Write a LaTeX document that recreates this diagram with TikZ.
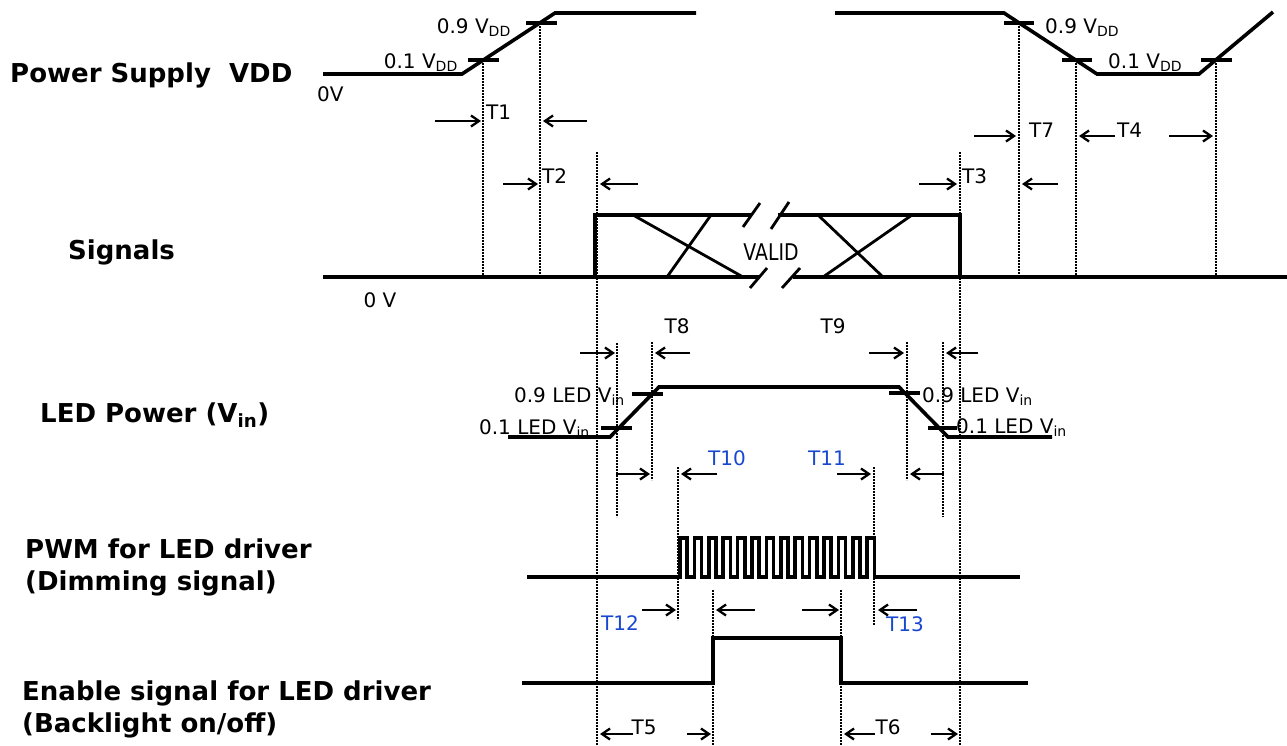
\documentclass[tikz,border=0pt]{standalone}
\usepackage{fontspec}
\setmainfont{DejaVu Sans}
\usepackage{tikz}
\usetikzlibrary{arrows.meta}
\definecolor{tblue}{RGB}{25,72,208}

\begin{document}
\begin{tikzpicture}[x=1pt,y=-1pt,
    sig/.style={line width=3.6pt},
    thin sig/.style={line width=2.8pt},
    lvl/.style={line width=3.6pt},
    guide/.style={line width=1.7pt,dash pattern=on 1.6pt off 1.4pt},
    tarr/.style={-{Straight Barb[length=8pt,width=11pt]},line width=2.3pt},
    lbl/.style={font=\fontsize{20}{22}\selectfont,inner sep=0pt},
    tlbl/.style={lbl,text=tblue},
    title/.style={font=\fontsize{26}{32}\selectfont\bfseries,inner sep=0pt,anchor=west,align=left}]
    \useasboundingbox (0,0) rectangle (1287,745);

    % Row titles
    \node[title] (tvdd) at (10,75) {Power Supply~~VDD};
    \node[title] (tsig) at (68,252) {Signals};
    \node[title] (tled) at (40,415) {LED Power (V\textsubscript{in})};
    \node[title] (tpwm) at (25,567) {PWM for LED driver\\(Dimming signal)};
    \node[title] (ten) at (22,709) {Enable signal for LED driver\\(Backlight on/off)};

    % Power supply VDD
    \draw[sig] (323,74) -- (462,74) -- (555,13) -- (696,13);
    \draw[sig] (835,13) -- (1004,13) -- (1097,74) -- (1199,74) -- (1273,12);
    \draw[lvl] (468,60) -- (499,60);
    \draw[lvl] (526,23) -- (557,23);
    \draw[lvl] (1004,23) -- (1034,23);
    \draw[lvl] (1062,60) -- (1092,60);
    \draw[lvl] (1201,60) -- (1232,60);
    \node[lbl,anchor=base east] (v9l) at (511,33) {0.9 V\textsubscript{DD}};
    \node[lbl,anchor=base east] (v1l) at (458,68) {0.1 V\textsubscript{DD}};
    \node[lbl,anchor=base west] (v9r) at (1045,33) {0.9 V\textsubscript{DD}};
    \node[lbl,anchor=base west] (v1r) at (1108,68) {0.1 V\textsubscript{DD}};
    \node[lbl,anchor=base west] (zv) at (317,101) {0V};

    % Signals
    \draw[sig] (323,277) -- (760,277);
    \draw[sig] (793,277) -- (1287,277);
    \draw[sig] (595,277) -- (595,215) -- (752,215);
    \draw[sig] (778,215) -- (960,215) -- (960,277);
    \draw[thin sig] (633,215) -- (743,277);
    \draw[thin sig] (711,215) -- (667,277);
    \draw[thin sig] (818,215) -- (883,277);
    \draw[thin sig] (912,215) -- (823,277);
    \draw[thin sig] (743,227) -- (760,203);
    \draw[thin sig] (771,229) -- (789,202);
    \draw[thin sig] (750,288) -- (767,268);
    \draw[thin sig] (782,288) -- (800,268);
    \node[lbl,font=\fontsize{23}{24}\selectfont,xscale=0.82] (valid) at (771,252) {VALID};
    \node[lbl] (zvs) at (380,300) {0 V};

    % LED power
    \draw[sig] (508,437) -- (610,437) -- (659,387) -- (899,387) -- (948,437) -- (1052,437);
    \draw[lvl] (601,428) -- (632,428);
    \draw[lvl] (632,394) -- (663,394);
    \draw[lvl] (889,393) -- (920,393);
    \draw[lvl] (928,428) -- (957,428);
    \node[lbl,anchor=base east] (l9l) at (625,402) {0.9 LED V\textsubscript{in}};
    \node[lbl,anchor=base east] (l1l) at (590,434) {0.1 LED V\textsubscript{in}};
    \node[lbl,anchor=base west] (l9r) at (922,402) {0.9 LED V\textsubscript{in}};
    \node[lbl,anchor=base west] (l1r) at (956,433) {0.1 LED V\textsubscript{in}};

    % PWM
    \draw[sig] (527,577) -- (680,577)
        \foreach \i in {0,...,12} {-- ++(0,-39) -- ++(7.2,0) -- ++(0,39) -- ++(7.2,0)}
        -- ++(0,-39) -- ++(7.2,0) -- ++(0,39) -- (1020,577);

    % Enable
    \draw[sig] (522,683) -- (713,683) -- (713,638) -- (841,638) -- (841,683) -- (1028,683);

    % Guide lines
    \foreach \gx/\ya/\yb in {483/60/277, 540/23/277, 1019/23/277, 1076/60/277, 1216/60/277,
        597/152/745, 960/152/745, 617/343/517, 652/342/480, 907/342/480, 943/342/517,
        678/467/620, 874/467/625, 713/590/745, 841/590/745}
        \draw[guide] (\gx,\ya) -- (\gx,\yb);

    % Timing arrows
    \draw[tarr] (435,121) -- (481,121);
    \draw[tarr] (587,121) -- (543,121);
    \node[lbl,anchor=base west] (t1) at (486,119) {T1};
    \draw[tarr] (974,136) -- (1016,136);
    \node[lbl,anchor=base west] (t7) at (1029,137) {T7};
    \draw[tarr] (1115,136) -- (1079,136);
    \draw[tarr] (1169,136) -- (1213,136);
    \node[lbl,anchor=base west] (t4) at (1117,137) {T4};
    \draw[tarr] (503,184) -- (538,184);
    \draw[tarr] (638,184) -- (600,184);
    \node[lbl,anchor=base west] (t2) at (542,183) {T2};
    \draw[tarr] (919,184) -- (957,184);
    \draw[tarr] (1058,184) -- (1022,184);
    \node[lbl,anchor=base west] (t3) at (962,183) {T3};

    \draw[tarr] (580,353) -- (615,353);
    \draw[tarr] (690,353) -- (655,353);
    \node[lbl] (t8) at (677,326) {T8};
    \draw[tarr] (869,353) -- (904,353);
    \draw[tarr] (978,353) -- (946,353);
    \node[lbl] (t9) at (833,326) {T9};

    \draw[tarr] (616,474) -- (650,474);
    \draw[tarr] (717,474) -- (681,474);
    \node[tlbl] (t10) at (727,458) {T10};
    \draw[tarr] (837,474) -- (871,474);
    \draw[tarr] (944,474) -- (910,474);
    \node[tlbl] (t11) at (827,458) {T11};

    \draw[tarr] (642,610) -- (676,610);
    \node[tlbl] (t12) at (620,623) {T12};
    \draw[tarr] (755,610) -- (716,610);
    \draw[tarr] (802,610) -- (839,610);
    \draw[tarr] (917,610) -- (878,610);
    \node[tlbl] (t13) at (905,624) {T13};

    \draw[tarr] (633,734) -- (600,734);
    \draw[tarr] (687,734) -- (711,734);
    \node[lbl] (t5) at (644,727) {T5};
    \draw[tarr] (875,734) -- (844,734);
    \draw[tarr] (931,734) -- (958,734);
    \node[lbl] (t6) at (888,727) {T6};
\end{tikzpicture}
\end{document}
